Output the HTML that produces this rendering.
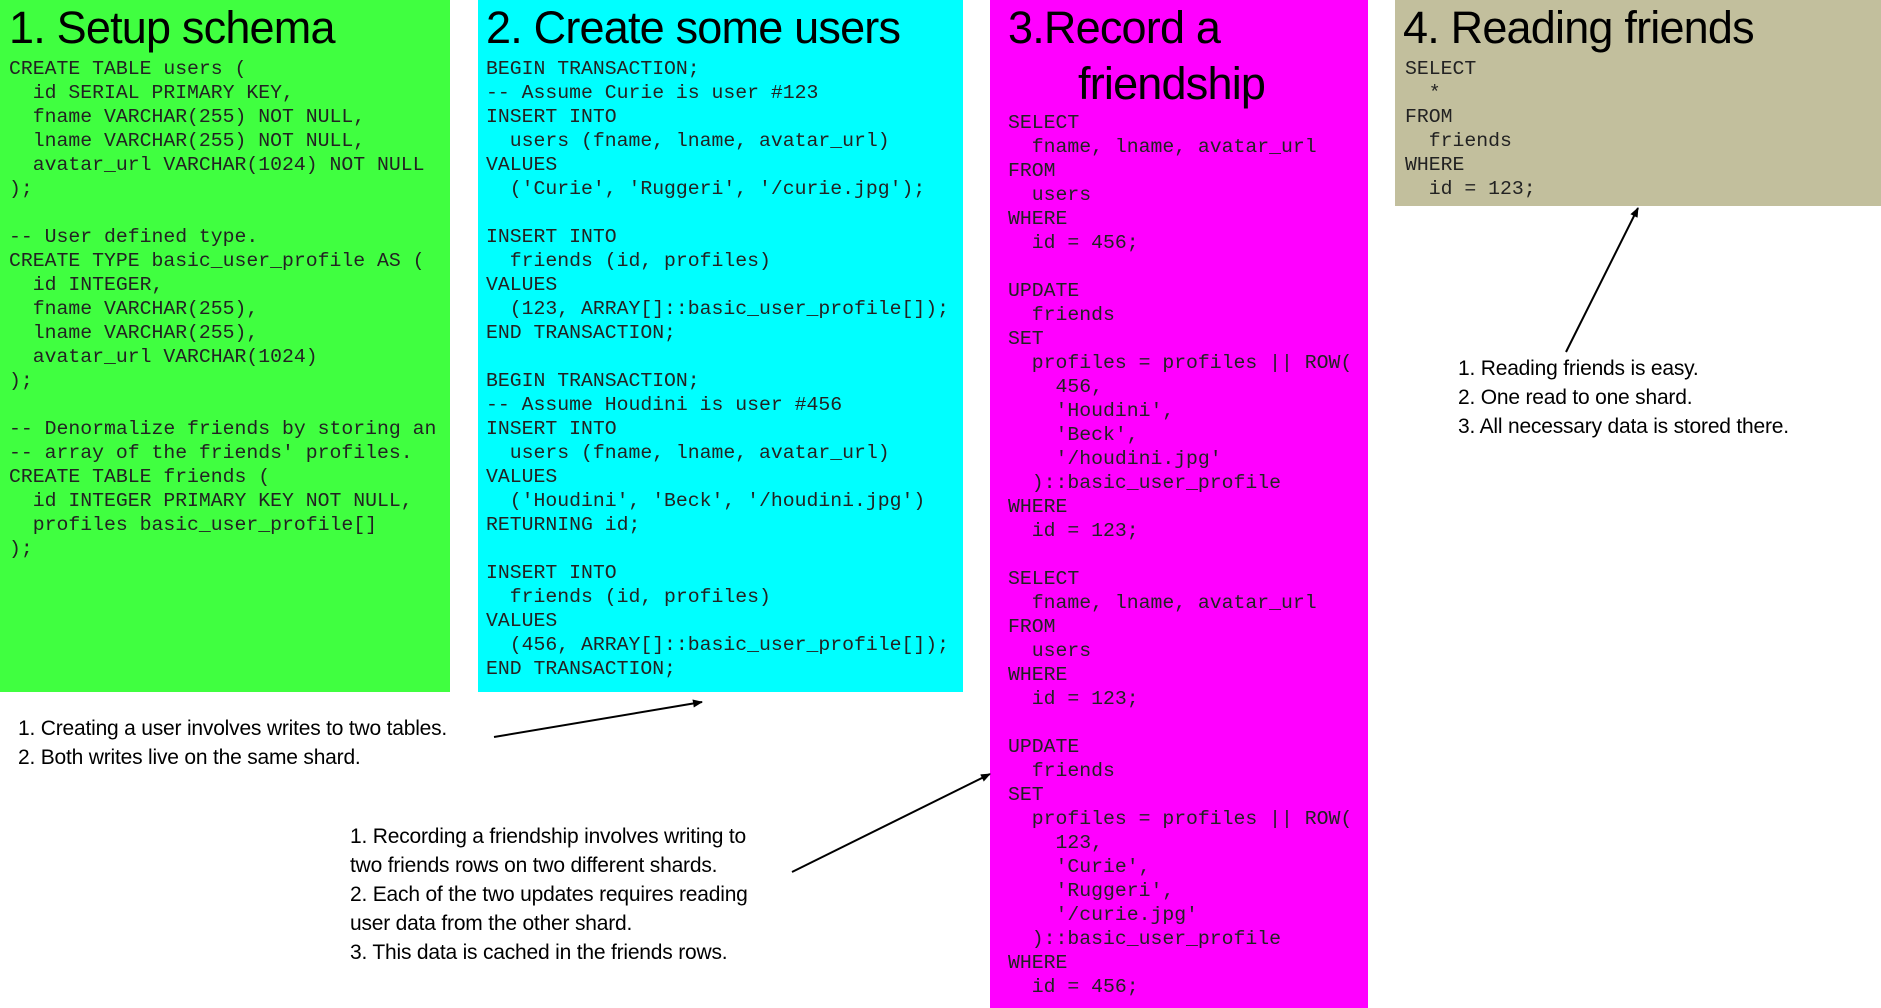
<!DOCTYPE html>
<html><head><meta charset="utf-8"><style>
body{margin:0;width:1881px;height:1008px;position:relative;background:#fff;overflow:hidden;font-family:"Liberation Sans",sans-serif;}
.p{position:absolute;top:0}
.t{position:absolute;font-size:45px;color:#000;line-height:56px;white-space:nowrap;letter-spacing:-0.8px}
pre{position:absolute;margin:0;font-family:"Liberation Mono",monospace;font-size:19.8px;line-height:24px;color:#222}
.n{position:absolute;font-size:21px;line-height:29px;color:#000;white-space:nowrap;letter-spacing:-0.2px}
</style></head><body>
<div class="p" style="left:0;width:450px;height:692px;background:#40ff40"></div>
<div class="p" style="left:478px;width:485px;height:692px;background:#00ffff"></div>
<div class="p" style="left:990px;width:378px;height:1008px;background:#ff00ff"></div>
<div class="p" style="left:1395px;width:486px;height:206px;background:#c2bf9d"></div>

<div class="t" style="left:9px;top:0">1. Setup schema</div>
<div class="t" style="left:486px;top:0">2. Create some users</div>
<div class="t" style="left:1008px;top:0">3.Record a</div>
<div class="t" style="left:1078px;top:56px">friendship</div>
<div class="t" style="left:1403px;top:0">4. Reading friends</div>

<pre style="left:9px;top:57px">CREATE TABLE users (
  id SERIAL PRIMARY KEY,
  fname VARCHAR(255) NOT NULL,
  lname VARCHAR(255) NOT NULL,
  avatar_url VARCHAR(1024) NOT NULL
);

-- User defined type.
CREATE TYPE basic_user_profile AS (
  id INTEGER,
  fname VARCHAR(255),
  lname VARCHAR(255),
  avatar_url VARCHAR(1024)
);

-- Denormalize friends by storing an
-- array of the friends' profiles.
CREATE TABLE friends (
  id INTEGER PRIMARY KEY NOT NULL,
  profiles basic_user_profile[]
);</pre>

<pre style="left:486px;top:57px">BEGIN TRANSACTION;
-- Assume Curie is user #123
INSERT INTO
  users (fname, lname, avatar_url)
VALUES
  ('Curie', 'Ruggeri', '/curie.jpg');

INSERT INTO
  friends (id, profiles)
VALUES
  (123, ARRAY[]::basic_user_profile[]);
END TRANSACTION;

BEGIN TRANSACTION;
-- Assume Houdini is user #456
INSERT INTO
  users (fname, lname, avatar_url)
VALUES
  ('Houdini', 'Beck', '/houdini.jpg')
RETURNING id;

INSERT INTO
  friends (id, profiles)
VALUES
  (456, ARRAY[]::basic_user_profile[]);
END TRANSACTION;</pre>

<pre style="left:1008px;top:111px">SELECT
  fname, lname, avatar_url
FROM
  users
WHERE
  id = 456;

UPDATE
  friends
SET
  profiles = profiles || ROW(
    456,
    'Houdini',
    'Beck',
    '/houdini.jpg'
  )::basic_user_profile
WHERE
  id = 123;

SELECT
  fname, lname, avatar_url
FROM
  users
WHERE
  id = 123;

UPDATE
  friends
SET
  profiles = profiles || ROW(
    123,
    'Curie',
    'Ruggeri',
    '/curie.jpg'
  )::basic_user_profile
WHERE
  id = 456;</pre>

<pre style="left:1405px;top:57px">SELECT
  *
FROM
  friends
WHERE
  id = 123;</pre>

<div class="n" style="left:18px;top:714px">1. Creating a user involves writes to two tables.<br>2. Both writes live on the same shard.</div>
<div class="n" style="left:350px;top:822px">1. Recording a friendship involves writing to<br>two friends rows on two different shards.<br>2. Each of the two updates requires reading<br>user data from the other shard.<br>3. This data is cached in the friends rows.</div>
<div class="n" style="left:1458px;top:354px">1. Reading friends is easy.<br>2. One read to one shard.<br>3. All necessary data is stored there.</div>

<svg style="position:absolute;left:0;top:0" width="1881" height="1008">
<defs><marker id="a" markerWidth="10" markerHeight="8" refX="9" refY="4" orient="auto" markerUnits="userSpaceOnUse"><path d="M0,0 L10,4 L0,8 z" fill="#000"/></marker></defs>
<g stroke="#000" stroke-width="2" fill="none">
<line x1="494" y1="737" x2="702" y2="702" marker-end="url(#a)"/>
<line x1="792" y1="872" x2="990" y2="774" marker-end="url(#a)"/>
<line x1="1566" y1="352" x2="1638" y2="208" marker-end="url(#a)"/>
</g></svg>
</body></html>
